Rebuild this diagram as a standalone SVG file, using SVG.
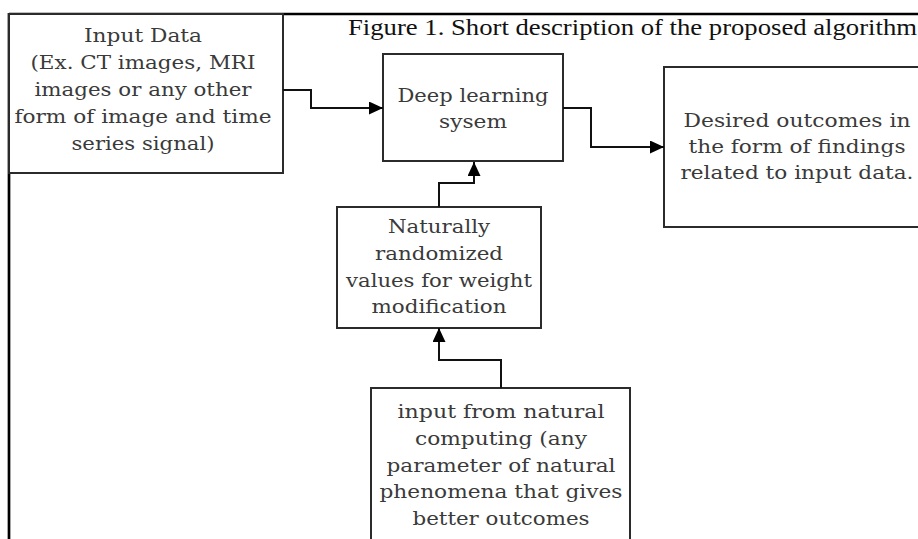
<svg xmlns="http://www.w3.org/2000/svg" width="918" height="539" viewBox="0 0 918 539">
<style>
.box{fill:#fff;stroke:#2b2b2b;stroke-width:2}
.frame{stroke:#000;stroke-width:2.7;fill:none}
.lbl{font-family:"DejaVu Serif","Liberation Serif",serif;font-size:19px;fill:#3a3a3a;text-anchor:middle}
.title{font-family:"Liberation Serif","Times New Roman",serif;font-size:24px;fill:#111}
.conn{fill:none;stroke:#111;stroke-width:2}
</style>
<defs>
<marker id="arr" markerUnits="userSpaceOnUse" markerWidth="14" markerHeight="13" refX="14" refY="6.5" orient="auto">
<path d="M0,0 L14,6.5 L0,13 z" fill="#000"/>
</marker>
</defs>
<rect width="918" height="539" fill="#fff"/>
<g id="frame">
<line class="frame" x1="9" y1="14" x2="918" y2="14"/>
<line class="frame" x1="9" y1="13" x2="9" y2="539"/>
</g>
<g id="title">
<text class="title" x="348" y="35" textLength="569" lengthAdjust="spacingAndGlyphs">Figure 1. Short description of the proposed algorithm</text>
</g>
<g id="input-data">
<rect class="box" x="9" y="14" width="274" height="159"/>
<text class="lbl" x="143" y="42" textLength="118" lengthAdjust="spacingAndGlyphs">Input Data</text>
<text class="lbl" x="143" y="69" textLength="225" lengthAdjust="spacingAndGlyphs">(Ex. CT images, MRI</text>
<text class="lbl" x="143" y="96" textLength="217" lengthAdjust="spacingAndGlyphs">images or any other</text>
<text class="lbl" x="143" y="123" textLength="257" lengthAdjust="spacingAndGlyphs">form of image and time</text>
<text class="lbl" x="143" y="150" textLength="143" lengthAdjust="spacingAndGlyphs">series signal)</text>
</g>
<g id="deep-learning">
<rect class="box" x="383" y="54" width="180" height="107"/>
<text class="lbl" x="473" y="102" textLength="151" lengthAdjust="spacingAndGlyphs">Deep learning</text>
<text class="lbl" x="473" y="128" textLength="68" lengthAdjust="spacingAndGlyphs">sysem</text>
</g>
<g id="desired-outcomes">
<rect class="box" x="664" y="67" width="270" height="160"/>
<text class="lbl" x="797" y="127" textLength="227" lengthAdjust="spacingAndGlyphs">Desired outcomes in</text>
<text class="lbl" x="797" y="153" textLength="217" lengthAdjust="spacingAndGlyphs">the form of findings</text>
<text class="lbl" x="797" y="179" textLength="233" lengthAdjust="spacingAndGlyphs">related to input data.</text>
</g>
<g id="naturally-randomized">
<rect class="box" x="337" y="207" width="204" height="121"/>
<text class="lbl" x="439" y="233" textLength="102" lengthAdjust="spacingAndGlyphs">Naturally</text>
<text class="lbl" x="439" y="260" textLength="128" lengthAdjust="spacingAndGlyphs">randomized</text>
<text class="lbl" x="439" y="287" textLength="186" lengthAdjust="spacingAndGlyphs">values for weight</text>
<text class="lbl" x="439" y="313" textLength="135" lengthAdjust="spacingAndGlyphs">modification</text>
</g>
<g id="natural-computing">
<rect class="box" x="371" y="388" width="259" height="170"/>
<text class="lbl" x="501" y="418" textLength="207" lengthAdjust="spacingAndGlyphs">input from natural</text>
<text class="lbl" x="501" y="445" textLength="172" lengthAdjust="spacingAndGlyphs">computing (any</text>
<text class="lbl" x="501" y="472" textLength="229" lengthAdjust="spacingAndGlyphs">parameter of natural</text>
<text class="lbl" x="501" y="498" textLength="243" lengthAdjust="spacingAndGlyphs">phenomena that gives</text>
<text class="lbl" x="501" y="525" textLength="177" lengthAdjust="spacingAndGlyphs">better outcomes</text>
</g>
<g id="connectors">
<path class="conn" d="M283,90 H311 V108 H383" marker-end="url(#arr)"/>
<path class="conn" d="M563,108 H591 V147 H664" marker-end="url(#arr)"/>
<path class="conn" d="M439,207 V183 H474 V162" marker-end="url(#arr)"/>
<path class="conn" d="M501,388 V360 H439 V328" marker-end="url(#arr)"/>
</g>
</svg>
